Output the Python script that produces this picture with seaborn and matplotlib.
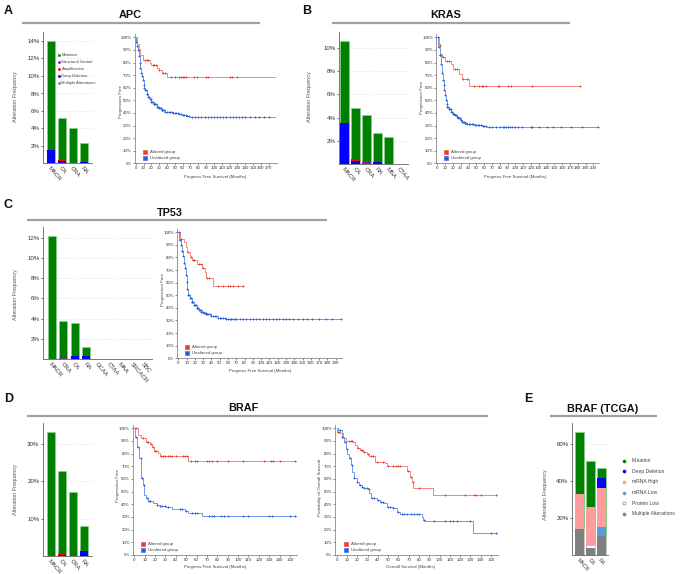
import numpy as np
import pandas as pd
import matplotlib
matplotlib.use("Agg")
import matplotlib.pyplot as plt
from matplotlib.lines import Line2D
import seaborn as sns

sns.set_theme(style="white")
plt.rcParams["font.family"] = ["Liberation Sans", "DejaVu Sans"]

# ---------------- data: alteration frequency bars (%) ----------------
apc_cats = ["MACR", "CA", "CRA", "RA"]
apc_mut = [12.45, 4.75, 4.0, 2.1]
apc_sv = [0.0, 0.0, 0.0, 0.0]
apc_amp = [0.0, 0.2, 0.0, 0.0]
apc_deep = [1.55, 0.25, 0.0, 0.2]

kras_cats = ["MACR", "CA", "CRA", "RA", "MSA", "CTAA"]
kras_mut = [7.05, 4.35, 4.05, 2.45, 2.3, 0.0]
kras_sv = [0.0, 0.0, 0.15, 0.0, 0.0, 0.0]
kras_amp = [0.0, 0.15, 0.0, 0.0, 0.0, 0.0]
kras_deep = [3.55, 0.3, 0.0, 0.2, 0.0, 0.0]

tp53_cats = ["MACR", "CRA", "CA", "RA", "GCAA", "CTAA", "MAA", "SRCACR", "SBC"]
tp53_mut = [12.2, 3.65, 3.3, 0.9, 0.0, 0.0, 0.0, 0.0, 0.0]
tp53_sv = [0.0, 0.1, 0.0, 0.0, 0.0, 0.0, 0.0, 0.0, 0.0]
tp53_amp = [0.0, 0.0, 0.0, 0.0, 0.0, 0.0, 0.0, 0.0, 0.0]
tp53_deep = [0.0, 0.0, 0.3, 0.3, 0.0, 0.0, 0.0, 0.0, 0.0]

braf_cats = ["MACR", "CA", "CRA", "RA"]
braf_mut = [33.2, 22.2, 17.2, 6.8]
braf_sv = [0.0, 0.0, 0.0, 0.0]
braf_amp = [0.0, 0.3, 0.0, 0.0]
braf_deep = [0.0, 0.2, 0.0, 1.3]

tcga_cats = ["MACR", "CA", "RA"]
tcga_multi = [14.2, 4.1, 10.3]
tcga_protein_low = [0.0, 1.5, 0.0]
tcga_mrna_low = [0.0, 0.0, 5.2]
tcga_mrna_high = [18.9, 20.5, 20.9]
tcga_deep = [0.0, 0.0, 5.4]
tcga_mut = [33.4, 25.0, 5.4]

# ---------------- data: Kaplan-Meier step curves (months, %) ----------------
apc_alt_t = [0, 2, 4, 6, 9, 18, 20, 27, 30, 33, 40]
apc_alt_s = [100, 95, 91, 86, 82, 80, 78, 76, 74, 72, 68.5]
apc_alt_end = 178
apc_alt_cens = [12, 14, 16, 22, 24, 26, 30, 35, 38, 45, 50, 55, 58, 60, 62, 64, 75, 78, 90, 93, 120, 123, 130]
apc_un_t = [0, 1, 2, 3, 4, 5, 6, 7, 8, 9, 10, 11, 12, 14, 16, 18, 20, 23, 27, 30, 33, 37, 40, 48, 55, 59, 65, 69]
apc_un_s = [100, 96, 93, 90, 85, 80, 76, 72, 69, 66, 62, 60, 58, 55, 53, 51, 49, 47, 45, 43.5, 42, 41, 40.5,
            39.8, 39, 38.4, 37.7, 37]
apc_un_end = 178
apc_un_cens = [1, 2, 3, 4, 5, 6, 7, 8, 9, 10, 11, 12, 13, 14, 15, 16, 17, 18, 19, 20, 21, 22, 23, 24, 25, 26,
               27, 28, 29, 30, 31, 32, 33, 34, 35, 36, 38, 40, 42, 44, 46, 48, 50, 52, 54, 56, 58, 60, 62, 64,
               66, 68, 72, 76, 80, 84, 88, 92, 96, 100, 104, 108, 112, 116, 120, 124, 128, 132, 136, 140, 146,
               152, 158, 164, 170]

kras_alt_t = [0, 2, 4, 6, 10, 17.5, 20.5, 28, 32, 40.6]
kras_alt_s = [100, 94, 87, 84, 81.5, 78.6, 75, 71, 66.7, 61.4]
kras_alt_end = 183
kras_alt_cens = [3, 7, 12, 15, 23, 25, 33, 38, 47, 53, 57, 59, 62, 78, 79, 90, 95, 122, 183]
kras_un_t = [0, 1.3, 3, 4.7, 5.5, 6.8, 8, 9, 10, 10.7, 12, 13, 15, 17.5, 20, 22.6, 25, 27, 30, 32, 35, 37.6,
             48, 57, 63]
kras_un_s = [100, 92.6, 86, 79, 72, 66, 62, 58, 54, 50, 47, 45, 43, 41, 39.5, 38.4, 37, 35.7, 34.3, 33, 32,
             31, 30.4, 30, 29.2]
kras_un_end = 206
kras_un_cens = [1, 2, 3, 4, 5, 6, 7, 8, 9, 10, 11, 12, 13, 14, 15, 16, 17, 18, 19, 20, 21, 22, 23, 24, 25,
                26, 27, 28, 29, 30, 31, 32, 33, 34, 35, 36, 37, 38, 40, 42, 44, 46, 48, 50, 52, 54, 56, 58, 60,
                62, 66, 70, 75, 80, 84, 86, 88, 90, 93, 96, 100, 104, 108, 120, 122, 130, 140, 148, 158, 172,
                185, 206]

tp53_alt_t = [0, 2, 7, 9, 11, 14, 17, 22, 29, 32, 34, 41.5]
tp53_alt_s = [100, 94.7, 92.6, 88, 84, 80.7, 78, 74.6, 71.4, 68.8, 63.5, 57.4]
tp53_alt_end = 78.5
tp53_alt_cens = [3, 12, 15, 18, 19, 25, 27, 30, 35, 37, 48, 54, 60, 62, 66, 72, 78]
tp53_un_t = [0, 1.2, 2.8, 4, 5.2, 6.4, 7.6, 8.8, 10, 11, 12, 14, 16, 19, 22, 25, 28, 31, 34, 40, 48, 58]
tp53_un_s = [100, 94, 90, 85.5, 81, 76, 71.4, 66, 60.8, 55, 50, 47.5, 45, 42, 39.7, 38.2, 37, 36, 35, 33.3,
             32.3, 31.5]
tp53_un_end = 196
tp53_un_cens = [1, 2, 3, 4, 5, 6, 7, 8, 9, 10, 11, 12, 13, 14, 15, 16, 17, 18, 19, 20, 21, 22, 23, 24, 25,
                26, 27, 28, 29, 30, 31, 32, 33, 34, 35, 36, 38, 40, 42, 44, 46, 48, 50, 52, 54, 56, 58, 60, 62,
                64, 66, 68, 70, 74, 78, 82, 86, 90, 94, 98, 102, 106, 110, 114, 118, 122, 126, 130, 134, 138,
                144, 150, 156, 162, 170, 178, 186, 196]

braf_alt_t = [0, 3.9, 6.4, 11, 15, 17.3, 19.3, 22.5, 24.7, 52]
braf_alt_s = [100, 94.7, 92, 89.5, 87.4, 85, 82.4, 80.3, 78.4, 74.5]
braf_alt_end = 156
braf_alt_cens = [1, 2, 8, 12, 13, 16, 18, 20, 21, 26, 28, 30, 32, 34, 36, 40, 47, 49, 51, 55, 58, 60, 70,
                 72, 75, 80, 90, 105, 125, 132, 134, 140, 155]
braf_un_t = [0, 1, 2.9, 4.8, 6.7, 8, 9.6, 11.2, 13.5, 17.7, 21.5, 24.7, 31, 36, 49, 52, 63, 65]
braf_un_s = [100, 93.4, 85.5, 76.3, 60.5, 55.3, 47.4, 44.7, 43, 40.8, 39.5, 38.7, 37.6, 36.3, 34.7, 33.4,
             32.9, 30.8]
braf_un_end = 156
braf_un_cens = [2, 4, 6, 7, 9, 12, 14, 15, 22, 25, 27, 30, 32, 44, 46, 50, 56, 58, 60, 72, 75, 77, 84, 86,
                90, 105, 110, 130, 133, 150, 155]

braf_os_alt_t = [0, 0.6, 3, 6.5, 9, 16, 18, 20, 22.7, 26, 29, 31, 37, 47, 48.6, 68.7, 71, 73, 74.5, 93.3]
braf_os_alt_s = [100, 97.4, 96.6, 92, 90.3, 89.5, 87, 84.7, 83, 81, 79.5, 78, 73.7, 72.4, 70.5, 66.6, 61.8,
                 57.4, 52.6, 47.4]
braf_os_alt_end = 155.5
braf_os_alt_cens = [1, 2, 12, 14, 15, 21, 24, 25, 27, 30, 33, 35, 39, 45, 50, 55, 58, 60, 62, 69, 72, 74,
                    80, 105, 125, 133, 135, 140, 155]
braf_os_un_t = [0, 1.6, 4.9, 7, 9, 10.4, 12, 13.6, 15.2, 16.8, 19.4, 22, 24.3, 27, 30, 31.4, 33, 39, 42,
                45.4, 48.6, 55, 59, 61.5, 82.6, 84, 86, 132.8]
braf_os_un_s = [100, 98.7, 93.4, 89.5, 84, 80, 76.3, 71, 65.8, 60.5, 58, 55.3, 54, 53, 52, 48.7, 44.7, 43.4,
                42, 40.8, 37.6, 36.8, 34.2, 32, 30.3, 28, 26.6, 17.6]
braf_os_un_end = 155.5
braf_os_un_cens = [3, 5, 8, 10, 13, 15, 17, 20, 23, 25, 27, 29, 31, 34, 36, 40, 43, 45, 50, 52, 55, 60, 63,
                   65, 68, 72, 75, 78, 80, 85, 95, 105, 110, 113, 117, 130, 150, 155]

# ---------------- styling ----------------
C_MUT = "#008000"
C_SV = "#8B1FA8"
C_AMP = "#FF0000"
C_DEEP = "#0000FF"
C_MULTI = "#808080"
C_MHIGH = "#FF9C9C"
C_MLOW = "#5B9BD5"
C_PLOW = "#FFFFFF"
RED_LINE, RED_MARK = "#F3887E", "#E8402F"
BLUE_LINE, BLUE_MARK = "#6F9BEE", "#2D5FD9"
TXT = "#333333"

W, H = 681, 574
fig = plt.figure(figsize=(W / 100, H / 100), dpi=100)


def add_ax(l, t, r, b):
    return fig.add_axes([l / W, 1 - b / H, (r - l) / W, (b - t) / H])


def ftext(x, y, s, **kw):
    fig.text(x / W, 1 - y / H, s, **kw)


def fline(x1, x2, y, color="#a0a0a0", lw=1.6):
    fig.add_artist(Line2D([x1 / W, x2 / W], [1 - y / H, 1 - y / H], transform=fig.transFigure,
                          color=color, lw=lw, solid_capstyle="butt"))


def fmark(x, y, color, marker="o", ms=2.0, mec=None):
    fig.add_artist(Line2D([x / W], [1 - y / H], transform=fig.transFigure, marker=marker, ms=ms,
                          color=color, mec=mec if mec else color, mew=0.4, ls="none"))


def bar_panel(left, right, bottom, pxpp, ytop, xl, xr, cats, layers, width, yticks, fs_x=4.3):
    ax = add_ax(left, bottom - ytop * pxpp, right, bottom)
    cum = np.zeros(len(cats))
    cums = []
    for vals, col in layers:
        cum = cum + np.array(vals, dtype=float)
        cums.append((cum.copy(), col))
    for vals, col in reversed(cums):
        df = pd.DataFrame({"cat": cats, "val": vals})
        ec = "#8fd48f" if col == C_MUT else ("#bbbbbb" if col == C_PLOW else "none")
        sns.barplot(data=df, x="cat", y="val", order=cats, color=col, saturation=1, width=width,
                    edgecolor=ec, linewidth=0.4, ax=ax)
    ax.set_xlim(xl, xr)
    ax.set_ylim(0, ytop)
    ax.set_xlabel("")
    ax.set_ylabel("")
    ax.set_yticks(yticks)
    ax.set_yticklabels([f"{v}%" for v in yticks])
    ax.yaxis.grid(True, ls=(0, (2, 2)), color="#e3e3e3", lw=0.6)
    ax.xaxis.grid(False)
    ax.set_axisbelow(True)
    for sp in ["top", "right"]:
        ax.spines[sp].set_visible(False)
    for sp in ["left", "bottom"]:
        ax.spines[sp].set_color("#777777")
        ax.spines[sp].set_linewidth(0.7)
    ax.tick_params(axis="y", labelsize=4.4, length=1.5, width=0.5, pad=1, colors=TXT, left=True)
    ax.tick_params(axis="x", labelsize=fs_x, length=0, pad=1.5, colors=TXT)
    for lab in ax.get_xticklabels():
        lab.set_rotation(-50)
        lab.set_ha("left")
        lab.set_va("top")
        lab.set_rotation_mode("anchor")
    return ax


def step_at(t, s, x):
    idx = np.searchsorted(np.array(t, dtype=float), np.array(x, dtype=float), side="right") - 1
    return np.array(s, dtype=float)[idx]


def km_curve(ax, t, s, end, cens, lc, mc):
    tt = list(t) + [end]
    ss = list(s) + [s[-1]]
    sns.lineplot(x=tt, y=ss, drawstyle="steps-post", estimator=None, sort=False, color=lc, lw=0.7, ax=ax)
    ax.plot(cens, step_at(t, s, cens), ls="none", marker="+", ms=2.1, mew=0.7, color=mc)


def km_panel(x0, pxpm, xmax, y0, y100, xticks, curves, xlabel, ylabel, xlab_pos, ylab_pos):
    ytop = 102.5
    left = x0 - 1.5 * pxpm
    top = y0 - (y0 - y100) * ytop / 100
    ax = add_ax(left, top, x0 + xmax * pxpm, y0)
    for c in curves:
        km_curve(ax, *c)
    ax.set_xlim(-1.5, xmax)
    ax.set_ylim(0, ytop)
    ax.set_xticks(xticks)
    ax.set_xticklabels([str(v) for v in xticks])
    yt = [0, 10, 20, 30, 40, 50, 60, 70, 80, 90, 100]
    ax.set_yticks(yt)
    ax.set_yticklabels([f"{v}%" for v in yt])
    ax.grid(False)
    for sp in ["top", "right"]:
        ax.spines[sp].set_visible(False)
    for sp in ["left", "bottom"]:
        ax.spines[sp].set_color("#888888")
        ax.spines[sp].set_linewidth(0.6)
    ax.tick_params(labelsize=3.2, length=1.2, width=0.4, pad=0.8, colors=TXT, left=True, bottom=True)
    ftext(xlab_pos[0], xlab_pos[1], xlabel, fontsize=3.2, color="#444444", ha="center", va="center")
    ftext(ylab_pos[0], ylab_pos[1], ylabel, fontsize=3.2, color="#444444", ha="center", va="center",
          rotation=90)
    # legend
    lx = x0 + 9
    fmark(lx, y0 - 11, RED_MARK, marker="s", ms=2.6)
    fmark(lx, y0 - 5.5, BLUE_MARK, marker="s", ms=2.6)
    ftext(lx + 5, y0 - 11, "Altered group", fontsize=3.1, color="#444444", va="center")
    ftext(lx + 5, y0 - 5.5, "Unaltered group", fontsize=3.1, color="#444444", va="center")
    return ax


def header(letter, lx, ly, title, tx, ty, x1, x2, yl):
    ftext(lx, ly, letter, fontsize=9, fontweight="bold", ha="center", va="center", color="#111111")
    ftext(tx, ty, title, fontsize=7.8, fontweight="bold", ha="center", va="center", color="#111111")
    fline(x1, x2, yl)


def std_layers(mut, sv, amp, deep):
    return [(deep, C_DEEP), (amp, C_AMP), (sv, C_SV), (mut, C_MUT)]


# ---------------- Panel A: APC ----------------
header("A", 8.5, 10.5, "APC", 130, 15, 22, 260, 22.7)
bar_panel(43, 92, 163.5, 8.75, 15.0, -0.73, 3.73, apc_cats, std_layers(apc_mut, apc_sv, apc_amp, apc_deep),
          0.8, [2, 4, 6, 8, 10, 12, 14])
ftext(16, 97, "Alteration Frequency", fontsize=4, color="#555555", rotation=90, ha="center", va="center")
leg_items = [("Mutation", C_MUT), ("Structural Variant", C_SV), ("Amplification", C_AMP),
             ("Deep Deletion", C_DEEP), ("Multiple Alterations", C_MULTI)]
for i, (lab, col) in enumerate(leg_items):
    yy = 54.5 + i * 7.1
    fmark(58.7, yy, col, ms=1.6)
    ftext(61.5, yy, lab, fontsize=3.0, color="#444444", va="center")
km_panel(135.7, 0.782, 180.7, 163.3, 37.3, list(range(0, 171, 10)),
         [(apc_alt_t, apc_alt_s, apc_alt_end, apc_alt_cens, RED_LINE, RED_MARK),
          (apc_un_t, apc_un_s, apc_un_end, apc_un_cens, BLUE_LINE, BLUE_MARK)],
         "Progress Free Survival (Months)", "Progression Free", (215, 176.7), (121, 101))

# ---------------- Panel B: KRAS ----------------
header("B", 307, 10.5, "KRAS", 446, 15, 332, 570, 22.7)
bar_panel(339, 408, 164, 11.6, 11.4, -0.5, 5.77, kras_cats,
          std_layers(kras_mut, kras_sv, kras_amp, kras_deep), 0.8, [2, 4, 6, 8, 10])
ftext(309, 97, "Alteration Frequency", fontsize=4, color="#555555", rotation=90, ha="center", va="center")
km_panel(437.3, 0.78, 207, 163.3, 37.3, list(range(0, 201, 10)),
         [(kras_alt_t, kras_alt_s, kras_alt_end, kras_alt_cens, RED_LINE, RED_MARK),
          (kras_un_t, kras_un_s, kras_un_end, kras_un_cens, BLUE_LINE, BLUE_MARK)],
         "Progress Free Survival (Months)", "Progression Free", (515, 176.7), (421.7, 98))

# ---------------- Panel C: TP53 ----------------
header("C", 8.5, 205, "TP53", 170, 212.7, 27, 327, 220)
bar_panel(43, 152, 359, 10.1, 13.1, -0.78, 8.7, tp53_cats,
          std_layers(tp53_mut, tp53_sv, tp53_amp, tp53_deep), 0.7, [2, 4, 6, 8, 10, 12])
ftext(16, 295, "Alteration Frequency", fontsize=4, color="#555555", rotation=90, ha="center", va="center")
km_panel(178.3, 0.828, 197.5, 358.3, 232.3, list(range(0, 191, 10)),
         [(tp53_alt_t, tp53_alt_s, tp53_alt_end, tp53_alt_cens, RED_LINE, RED_MARK),
          (tp53_un_t, tp53_un_s, tp53_un_end, tp53_un_cens, BLUE_LINE, BLUE_MARK)],
         "Progress Free Survival (Months)", "Progression Free", (260, 371), (163, 290))

# ---------------- Panel D: BRAF ----------------
header("D", 8.5, 399, "BRAF", 243, 408, 27, 488, 416)
bar_panel(43, 92, 556, 3.74, 35.5, -0.73, 3.73, braf_cats,
          std_layers(braf_mut, braf_sv, braf_amp, braf_deep), 0.78, [10, 20, 30])
ftext(15, 490, "Alteration Frequency", fontsize=4, color="#555555", rotation=90, ha="center", va="center")
km_panel(134.3, 1.038, 157, 555, 428.3, list(range(0, 151, 10)),
         [(braf_alt_t, braf_alt_s, braf_alt_end, braf_alt_cens, RED_LINE, RED_MARK),
          (braf_un_t, braf_un_s, braf_un_end, braf_un_cens, BLUE_LINE, BLUE_MARK)],
         "Progress Free Survival (Months)", "Progression Free", (215, 566.7), (118, 485))
km_panel(336.7, 1.029, 156.5, 555, 428.3, list(range(0, 151, 10)),
         [(braf_os_alt_t, braf_os_alt_s, braf_os_alt_end, braf_os_alt_cens, RED_LINE, RED_MARK),
          (braf_os_un_t, braf_os_un_s, braf_os_un_end, braf_os_un_cens, BLUE_LINE, BLUE_MARK)],
         "Overall Survival (Months)", "Probability of Overall Survival", (410, 566.7), (320, 488))

# ---------------- Panel E: BRAF (TCGA) ----------------
header("E", 528, 399, "BRAF (TCGA)", 603, 409, 550, 657, 416)
bar_panel(572, 608, 555.3, 1.85, 71.3, -0.72, 2.64, tcga_cats,
          [(tcga_multi, C_MULTI), (tcga_protein_low, C_PLOW), (tcga_mrna_low, C_MLOW),
           (tcga_mrna_high, C_MHIGH), (tcga_deep, C_DEEP), (tcga_mut, C_MUT)],
          0.85, [20, 40, 60], fs_x=3.8)
ftext(545, 495, "Alteration Frequency", fontsize=4, color="#555555", rotation=90, ha="center", va="center")
e_items = [("Mutation", C_MUT), ("Deep Deletion", C_DEEP), ("mRNA High", C_MHIGH), ("mRNA Low", C_MLOW),
           ("Protein Low", C_PLOW), ("Multiple Alterations", C_MULTI)]
for i, (lab, col) in enumerate(e_items):
    yy = 460.7 + i * 10.6
    fmark(624.3, yy, col, ms=2.2, mec="#666666" if col == C_PLOW else None)
    ftext(631.5, yy, lab, fontsize=3.6, color="#444444", va="center")

fig.savefig("out.png", dpi=100)
